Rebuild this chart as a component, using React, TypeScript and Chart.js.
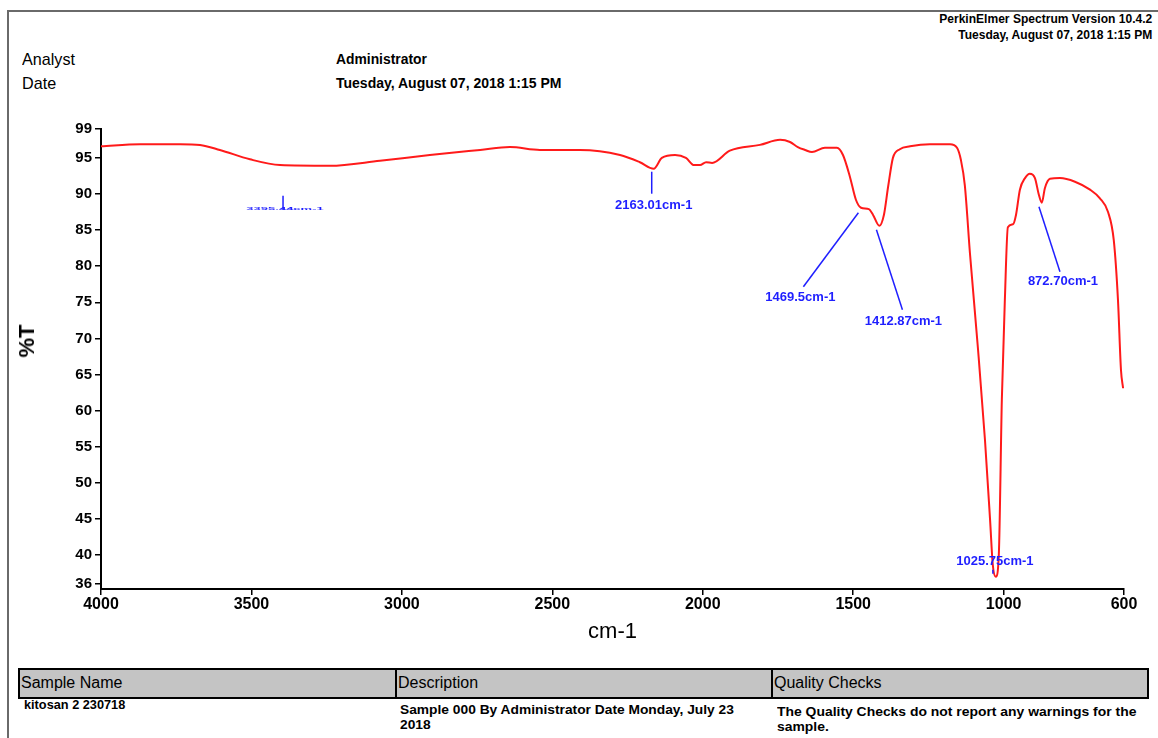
import React, { useEffect, useRef } from "react";
import { Chart, registerables } from "chart.js";

Chart.register(...registerables);

// ---- data ----
const wavenumbers = [
  4000, 3870, 3737, 3671, 3605, 3505, 3405, 3239, 3073, 2907, 2740, 2641, 2541, 2408, 2275, 2209,
  2163, 2136, 2092, 2056, 2029, 2009, 1989, 1969, 1910, 1810, 1743, 1710, 1684, 1660, 1637, 1594,
  1554, 1534, 1511, 1491, 1474, 1448, 1434, 1413, 1398, 1384, 1368, 1345, 1311, 1245, 1178, 1155,
  1142, 1129, 1112, 1085, 1062, 1045, 1036, 1026, 1016, 1006, 996, 986, 969, 959, 946, 929, 913,
  896, 883, 873, 863, 846, 813, 763, 713, 680, 653, 634, 620, 610, 603,
];
const transmittance = [
  96.6, 96.9, 96.9, 96.8, 96.1, 94.8, 94.0, 93.9, 94.6, 95.4, 96.1, 96.5, 96.1, 96.1, 95.4, 94.4,
  93.5, 95.0, 95.4, 95.0, 94.0, 94.0, 94.4, 94.3, 96.0, 96.8, 97.5, 97.2, 96.5, 96.1, 95.8, 96.4,
  96.4, 95.4, 92.4, 89.2, 88.1, 87.9, 87.1, 85.6, 87.1, 91.0, 95.0, 96.2, 96.6, 96.9, 96.9, 96.4,
  94.7, 91.2, 81.8, 68.4, 55.9, 44.8, 38.6, 37.0, 40.1, 61.5, 75.3, 85.4, 85.8, 87.1, 90.6, 92.2, 92.8,
  92.2, 89.9, 88.8, 90.8, 92.1, 92.2, 91.7, 90.6, 89.4, 87.5, 83.6, 75.3, 65.6, 63.1,
];
const xTicks = [4000, 3500, 3000, 2500, 2000, 1500, 1000, 600];
const yTicks = [36, 40, 45, 50, 55, 60, 65, 70, 75, 80, 85, 90, 95, 99];

const peakWaves = [3395, 2163.01, 1469.5, 1412.87, 1025.75, 872.7];
const peakValues = [93.9, 93.5, 88.1, 85.6, 37.0, 88.8];
const peakLabels = ["3395.44cm-1", "2163.01cm-1", "1469.5cm-1", "1412.87cm-1", "1025.75cm-1", "872.70cm-1"];

// ---- styles / layout of peak labels (pixel offsets from the peak point) ----
const PEAK_LAYOUT = [
  { sx: 0, sy: 30, ex: 0, ey: 44, tx: 2, ty: 43, squash: 0.3 },
  { sx: -2, sy: 3, ex: -2, ey: 25, tx: 0, ty: 37, squash: 1 },
  { sx: -4, sy: 5, ex: -59, ey: 79, tx: -62, ty: 90, squash: 1 },
  { sx: -3, sy: 4, ex: 23, ey: 84, tx: 24, ty: 96, squash: 1 },
  { sx: -3, sy: -7, ex: -3, ey: -3, tx: -1, ty: -15, squash: 1 },
  { sx: -3, sy: 4, ex: 18, ey: 69, tx: 21, ty: 79, squash: 1 },
];

const FAM = '"Liberation Sans", Arial, Helvetica, sans-serif';
const BLUE = "#1f1fff";

const peakPlugin = {
  id: "peakLabels",
  afterDatasetsDraw(chart: any) {
    const { ctx, scales } = chart;
    const xs = scales.x;
    const ys = scales.y;
    ctx.save();
    ctx.strokeStyle = BLUE;
    ctx.fillStyle = BLUE;
    ctx.lineWidth = 1.5;
    ctx.font = `bold 13px ${FAM}`;
    ctx.textAlign = "center";
    ctx.textBaseline = "middle";
    peakWaves.forEach((w, i) => {
      const px = xs.getPixelForValue(w);
      const py = ys.getPixelForValue(peakValues[i]);
      const L = PEAK_LAYOUT[i];
      ctx.beginPath();
      ctx.moveTo(px + L.sx, py + L.sy);
      ctx.lineTo(px + L.ex, py + L.ey);
      ctx.stroke();
      ctx.save();
      ctx.translate(px + L.tx, py + L.ty);
      ctx.scale(1, L.squash);
      ctx.fillText(peakLabels[i], 0, 0);
      ctx.restore();
    });
    ctx.restore();
  },
};

type TxtProps = {
  x: number;
  y: number;
  size: number;
  bold?: boolean;
  sx?: number;
  right?: boolean;
  children: React.ReactNode;
};

function Txt({ x, y, size, bold, sx = 1, right, children }: TxtProps) {
  const style: React.CSSProperties = {
    position: "absolute",
    top: y,
    fontFamily: FAM,
    fontSize: size,
    fontWeight: bold ? 700 : 400,
    lineHeight: 1,
    whiteSpace: "nowrap",
    color: "#000",
    transform: `scaleX(${sx})`,
    transformOrigin: right ? "right top" : "left top",
  };
  if (right) style.right = x;
  else style.left = x;
  return <div style={style}>{children}</div>;
}

function SpectrumChart() {
  const ref = useRef<HTMLCanvasElement | null>(null);
  useEffect(() => {
    if (!ref.current) return;
    const points = wavenumbers.map((w, i) => ({ x: w, y: transmittance[i] }));
    const tickFont = { family: FAM, weight: "bold" as const };
    const chart = new Chart(ref.current, {
      type: "line",
      data: {
        datasets: [
          {
            data: points,
            borderColor: "#ff1a1a",
            borderWidth: 2,
            pointRadius: 0,
            fill: false,
            cubicInterpolationMode: "monotone",
          },
        ],
      },
      options: {
        animation: false,
        responsive: false,
        devicePixelRatio: 1,
        layout: { padding: { left: 0, top: 29, right: 34, bottom: 11 } },
        plugins: { legend: { display: false }, tooltip: { enabled: false } },
        scales: {
          x: {
            type: "linear",
            reverse: true,
            min: 600,
            max: 4000,
            afterBuildTicks: (s: any) => {
              s.ticks = xTicks.map((v) => ({ value: v }));
            },
            afterFit: (s: any) => {
              s.height = 60;
            },
            ticks: {
              autoSkip: false,
              maxRotation: 0,
              padding: 0,
              color: "#000",
              font: { ...tickFont, size: 16 },
              callback: (v: any) => String(v),
            },
            grid: { drawOnChartArea: false, drawTicks: true, tickLength: 6, color: "#000", lineWidth: 1.5 },
            border: { color: "#000", width: 2 },
            title: {
              display: true,
              text: "cm-1",
              color: "#000",
              font: { family: FAM, size: 22 },
              padding: { top: 0, bottom: 4 },
            },
          },
          y: {
            type: "linear",
            min: 35.3,
            max: 99,
            afterBuildTicks: (s: any) => {
              s.ticks = yTicks.map((v) => ({ value: v }));
            },
            afterFit: (s: any) => {
              s.width = 101;
            },
            ticks: {
              autoSkip: false,
              padding: 3,
              color: "#000",
              font: { ...tickFont, size: 15 },
              callback: (v: any) => String(v),
            },
            grid: { drawOnChartArea: false, drawTicks: true, tickLength: 6, color: "#000", lineWidth: 1.5 },
            border: { color: "#000", width: 2 },
          },
        },
      },
      plugins: [peakPlugin],
    } as any);
    return () => chart.destroy();
  }, []);
  return (
    <canvas
      ref={ref}
      width={1158}
      height={560}
      style={{ position: "absolute", left: 0, top: 100, width: 1158, height: 560 }}
    />
  );
}

const cellStyle = (left: number, width: number): React.CSSProperties => ({
  position: "absolute",
  left,
  top: 668,
  width,
  height: 31,
  boxSizing: "border-box",
  border: "2px solid #000",
  background: "#c4c4c4",
});

export default function App() {
  return (
    <div
      style={{
        position: "absolute",
        left: 0,
        top: 0,
        width: 1158,
        height: 738,
        overflow: "hidden",
        background: "#fff",
      }}
    >
      {/* page frame */}
      <div style={{ position: "absolute", left: 7, top: 10, width: 1151, height: 2, background: "#6a6a6a" }} />
      <div style={{ position: "absolute", left: 7, top: 10, width: 2, height: 728, background: "#6a6a6a" }} />

      <Txt x={6} y={13} size={12.7} bold right sx={0.95}>PerkinElmer Spectrum Version 10.4.2</Txt>
      <Txt x={6} y={29} size={12.7} bold right sx={0.95}>Tuesday, August 07, 2018 1:15 PM</Txt>

      <Txt x={22} y={51} size={17} sx={0.95}>Analyst</Txt>
      <Txt x={22} y={75} size={17} sx={0.95}>Date</Txt>
      <Txt x={336} y={52} size={14} bold sx={0.99}>Administrator</Txt>
      <Txt x={336} y={76} size={14} bold sx={1.0}>Tuesday, August 07, 2018 1:15 PM</Txt>

      <SpectrumChart />

      <div
        style={{
          position: "absolute",
          left: 27,
          top: 341,
          transform: "translate(-50%, -50%) rotate(-90deg)",
          fontFamily: FAM,
          fontWeight: 700,
          fontSize: 22,
          lineHeight: 1,
          whiteSpace: "nowrap",
        }}
      >
        %T
      </div>

      {/* table */}
      <div style={cellStyle(18, 379)} />
      <div style={cellStyle(395, 378)} />
      <div style={cellStyle(771, 378)} />
      <Txt x={21} y={675} size={16} sx={1.0}>Sample Name</Txt>
      <Txt x={398} y={675} size={16} sx={1.0}>Description</Txt>
      <Txt x={774} y={675} size={16} sx={1.0}>Quality Checks</Txt>

      <Txt x={24} y={698} size={13} bold sx={0.98}>kitosan 2 230718</Txt>
      <Txt x={400} y={703} size={13} bold sx={1.06}>Sample 000 By Administrator Date Monday, July 23</Txt>
      <Txt x={400} y={718} size={13} bold sx={1.06}>2018</Txt>
      <Txt x={777} y={705} size={13} bold sx={1.07}>The Quality Checks do not report any warnings for the</Txt>
      <Txt x={777} y={720} size={13} bold sx={1.07}>sample.</Txt>
    </div>
  );
}
